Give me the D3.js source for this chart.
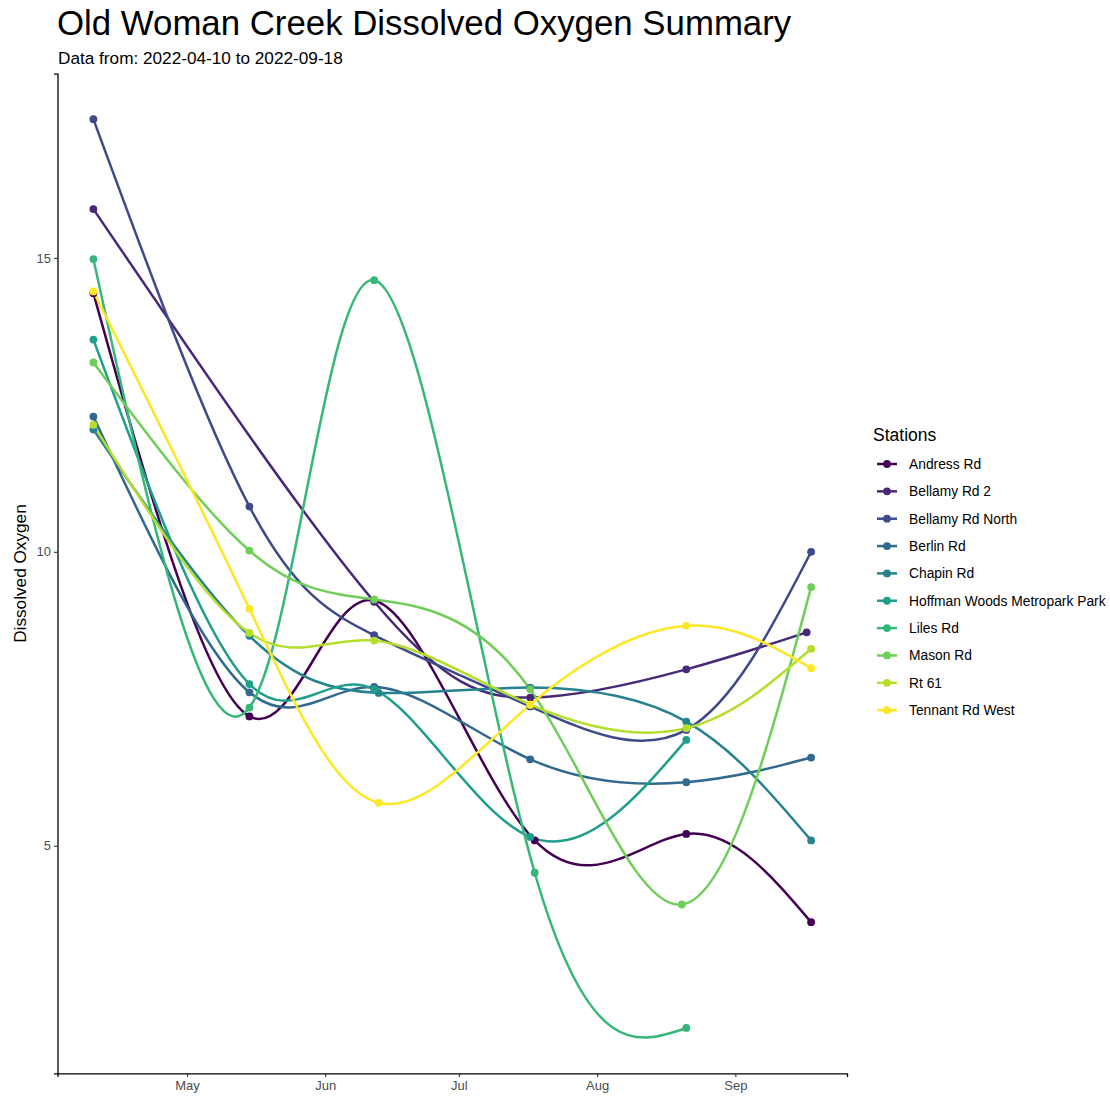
<!DOCTYPE html>
<html lang="en">
<head>
<meta charset="UTF-8">
<title>Old Woman Creek Dissolved Oxygen Summary</title>
<script src="https://cdn.jsdelivr.net/npm/d3@7"></script>
<style>
    body { margin: 0; background: #fff; }
    svg { font-family: "Liberation Sans", Arial, sans-serif; }
    .tick text { fill: #4d4d4d; font-size: 13px; }
</style>
</head>
<body>
<svg id="chart" width="1110" height="1098"></svg>
<script>
// stations, in legend order
const stations = ['Andress Rd', 'Bellamy Rd 2', 'Bellamy Rd North', 'Berlin Rd', 'Chapin Rd',
    'Hoffman Woods Metropark Park', 'Liles Rd', 'Mason Rd', 'Rt 61', 'Tennant Rd West']

// sampling dates per station
const datesAndress = ['2022-04-10', '2022-05-15', '2022-06-12', '2022-07-18', '2022-08-21', '2022-09-18']
const datesBellamy2 = ['2022-04-10', '2022-06-12', '2022-07-17', '2022-08-21', '2022-09-17']
const datesBellamyN = ['2022-04-10', '2022-05-15', '2022-06-12', '2022-07-17', '2022-08-21', '2022-09-18']
const datesBerlin = ['2022-04-10', '2022-05-15', '2022-06-12', '2022-07-17', '2022-08-21', '2022-09-18']
const datesChapin = ['2022-04-10', '2022-05-15', '2022-06-13', '2022-07-17', '2022-08-21', '2022-09-18']
const datesHoffman = ['2022-04-10', '2022-05-15', '2022-06-12', '2022-07-17', '2022-08-21']
const datesLiles = ['2022-04-10', '2022-05-15', '2022-06-12', '2022-07-18', '2022-08-21']
const datesMason = ['2022-04-10', '2022-05-15', '2022-06-12', '2022-07-17', '2022-08-20', '2022-09-18']
const datesRt61 = ['2022-04-10', '2022-05-15', '2022-06-12', '2022-07-17', '2022-08-21', '2022-09-18']
const datesTennant = ['2022-04-10', '2022-05-15', '2022-06-13', '2022-07-17', '2022-08-21', '2022-09-18']

// dissolved oxygen readings per station
const doAndress = [14.40, 7.20, 9.17, 5.09, 5.20, 3.70]
const doBellamy2 = [15.83, 9.15, 7.52, 8.00, 8.63]
const doBellamyN = [17.36, 10.77, 8.58, 7.37, 6.97, 10.00]
const doBerlin = [12.30, 7.61, 7.70, 6.47, 6.08, 6.50]
const doChapin = [12.08, 8.57, 7.60, 7.69, 7.11, 5.09]
const doHoffman = [13.61, 7.75, 7.66, 5.15, 6.80]
const doLiles = [14.98, 7.35, 14.62, 4.54, 1.90]
const doMason = [13.22, 10.02, 9.19, 7.66, 4.00, 9.40]
const doRt61 = [12.16, 8.62, 8.49, 7.40, 7.00, 8.35]
const doTennant = [14.43, 9.03, 5.73, 7.40, 8.74, 8.02]

const stationDates = [datesAndress, datesBellamy2, datesBellamyN, datesBerlin, datesChapin,
    datesHoffman, datesLiles, datesMason, datesRt61, datesTennant]
const stationValues = [doAndress, doBellamy2, doBellamyN, doBerlin, doChapin,
    doHoffman, doLiles, doMason, doRt61, doTennant]

const yTicks = [5, 10, 15]

const parseDate = d3.timeParse('%Y-%m-%d')
const series = stations.map((name, i) => ({
    name: name,
    points: stationDates[i].map((d, j) => ({ date: parseDate(d), value: stationValues[i][j] }))
}))

const svg = d3.select('#chart')
const margin = { left: 57.5, top: 73.7, right: 263, bottom: 24.6 }
const width = 1110
const height = 1098
const innerWidth = width - margin.left - margin.right
const innerHeight = height - margin.top - margin.bottom

const allPoints = series.flatMap(s => s.points)
const xExt = d3.extent(allPoints, d => d.date)
const yExt = d3.extent(allPoints, d => d.value)
// ggplot style 5% expansion
const xPad = (xExt[1] - xExt[0]) * 0.05
const yPad = (yExt[1] - yExt[0]) * 0.05

const xScale = d3.scaleTime()
    .domain([new Date(+xExt[0] - xPad), new Date(+xExt[1] + xPad)])
    .range([0, innerWidth])
const yScale = d3.scaleLinear()
    .domain([yExt[0] - yPad, yExt[1] + yPad])
    .range([innerHeight, 0])

const color = d3.scaleOrdinal()
    .domain(stations)
    .range(d3.quantize(d3.interpolateViridis, stations.length))

const g = svg.append('g').attr('transform', `translate(${margin.left},${margin.top})`)

// lines
const line = d3.line()
    .x(d => xScale(d.date))
    .y(d => yScale(d.value))
    .curve(d3.curveNatural)

g.selectAll('path.series').data(series).enter()
    .append('path')
    .attr('class', 'series')
    .attr('d', d => line(d.points))
    .attr('fill', 'none')
    .attr('stroke', d => color(d.name))
    .attr('stroke-width', 2.5)

// points
series.forEach(s => {
    g.selectAll(null).data(s.points).enter()
        .append('circle')
        .attr('cx', d => xScale(d.date))
        .attr('cy', d => yScale(d.value))
        .attr('r', 3.9)
        .attr('fill', color(s.name))
})

// axes
const yAxis = g.append('g')
    .call(d3.axisLeft(yScale).tickValues(yTicks).tickSize(3.5).tickPadding(3))
const xAxis = g.append('g')
    .attr('transform', `translate(0,${innerHeight})`)
    .call(d3.axisBottom(xScale).ticks(d3.timeMonth.every(1)).tickFormat(d3.timeFormat('%b')).tickSize(3.5).tickPadding(4))

;[xAxis, yAxis].forEach(a => {
    a.select('.domain').attr('stroke', '#000').attr('stroke-width', 1.3)
    a.selectAll('.tick line').attr('stroke', '#333').attr('stroke-width', 1.1)
    a.selectAll('.tick text').attr('font-family', null).attr('font-size', null)
})
xAxis.selectAll('.tick').filter(d => d < new Date(2022, 4, 1)).remove()

// titles
svg.append('text')
    .attr('x', 57).attr('y', 35)
    .attr('font-size', 34.8)
    .attr('fill', '#000')
    .text('Old Woman Creek Dissolved Oxygen Summary')
svg.append('text')
    .attr('x', 58).attr('y', 64)
    .attr('font-size', 17.2)
    .attr('fill', '#000')
    .text('Data from: 2022-04-10 to 2022-09-18')
svg.append('text')
    .attr('transform', `translate(26,${margin.top + innerHeight / 2}) rotate(-90)`)
    .attr('text-anchor', 'middle')
    .attr('font-size', 17.2)
    .attr('fill', '#000')
    .text('Dissolved Oxygen')

// legend
const legend = svg.append('g').attr('transform', 'translate(873,0)')
legend.append('text')
    .attr('x', 0).attr('y', 441)
    .attr('font-size', 17.5)
    .attr('fill', '#000')
    .text('Stations')

const rows = legend.selectAll('g.row').data(stations).enter()
    .append('g')
    .attr('class', 'row')
    .attr('transform', (d, i) => `translate(0,${464 + i * 27.35})`)
rows.append('line')
    .attr('x1', 4).attr('x2', 24)
    .attr('stroke', d => color(d))
    .attr('stroke-width', 2.5)
rows.append('circle')
    .attr('cx', 14).attr('r', 3.9)
    .attr('fill', d => color(d))
rows.append('text')
    .attr('x', 36).attr('dy', '0.35em')
    .attr('font-size', 13.8)
    .attr('fill', '#000')
    .text(d => d)
</script>
</body>
</html>
